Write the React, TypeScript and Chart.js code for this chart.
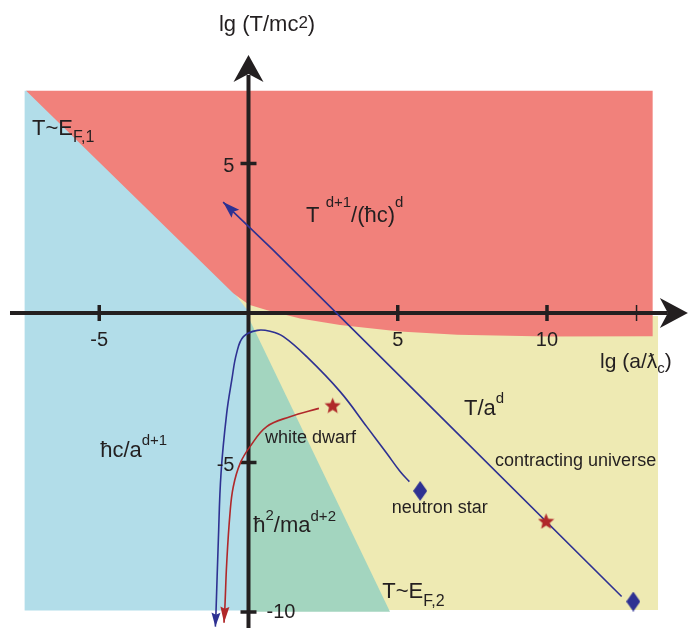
import React, { useEffect, useRef } from 'react';
import { Chart, registerables } from 'chart.js';

Chart.register(...registerables);

const W = 694;
const H = 628;
const X_MIN = -8.325;
const X_MAX = 14.925;
const Y_MIN = -10.535;
const Y_MAX = 10.468;

// ---- regions (data units: x = lg(a/ƛc), y = lg(T/mc²)) ----
const YELLOW_REGION: [number, number][] = [[-1, 1.5], [13.54, -0.1], [13.72, -0.1], [13.72, -9.93], [-1, -9.93]];
const BLUE_REGION: [number, number][] = [[-7.5, 7.43], [-7.3, 7.43], [-0.51, 0.7], [0, 0.05], [0, -9.95], [-7.5, -9.95]];
const RED_REGION: [number, number][] = [
  [-7.45, 7.43], [13.54, 7.43], [13.54, -0.78], [10, -0.79], [7, -0.73], [5.07, -0.62], [3.07, -0.4],
  [1.73, -0.18], [0.6, 0.1], [0.02, 0.28], [-0.25, 0.47], [-0.51, 0.66],
];
const GREEN_REGION: [number, number][] = [[0, -0.15], [4.74, -9.99], [0, -9.99]];

// ---- trajectories ----
const CONTRACTING_LINE: [number, number][] = [[12.5, -9.48], [6.42, -3.45], [0.82, 2.11], [-0.85, 3.71]];
const NEUTRON_CURVE: [number, number][] = [
  [5.39, -5.64], [5.08, -5.3], [4.63, -4.69], [3.96, -3.8], [3.07, -2.63], [1.95, -1.46], [1.17, -0.79],
  [0.75, -0.62], [0.3, -0.58], [-0.17, -0.79], [-0.4, -1.35], [-0.56, -2.24], [-0.73, -3.35],
  [-0.92, -5.36], [-1.01, -7.59], [-1.09, -10.04], [-1.11, -10.49],
];
const DWARF_CURVE: [number, number][] = [
  [2.36, -3.19], [1.39, -3.47], [0.61, -3.8], [0.05, -4.47], [-0.28, -5.03], [-0.51, -5.81],
  [-0.62, -6.7], [-0.73, -8.37], [-0.79, -9.82], [-0.82, -10.36],
];
const STAR_POINTS: [number, number][] = [[2.82, -3.08], [9.97, -6.95]];
const DIAMOND_POINTS: [number, number][] = [[5.75, -5.95], [12.89, -9.65]];

// ---- axes ----
const X_TICKS = [-5, 5, 10];
const X_TICK_LABELS = ['-5', '5', '10'];
const X_MINOR_TICKS = [13];
const Y_TICKS = [5, -5, -10];
const Y_TICK_LABELS = ['5', '-5', '-10'];
const Y_TICK_SIDES = ['left', 'left', 'right'];
const X_AXIS_RANGE = [-7.99, 14.72];
const Y_AXIS_RANGE = [-10.6, 8.63];

// ---- labels ----
const X_TITLE = [['lg (a/ƛ', 21, 0], ['c', 15, 5], [')', 21, 0]];
const X_TITLE_AT = [11.78, -1.84];
const Y_TITLE = [['lg (T/mc', 22, 0], ['2', 17, -3], [')', 22, 0]];
const Y_TITLE_AT = [-0.99, 9.43];

const REGION_LABELS: { segs: (string | number)[][]; at: number[] }[] = [
  { segs: [['T~E', 22, 0], ['F,1', 16, 7]], at: [-7.25, 5.95] },
  { segs: [['T ', 22, 0], ['d+1', 15, -15], ['/(ħc)', 22, 0], ['d', 15, -15]], at: [1.93, 3.04] },
  { segs: [['T/a', 22, 0], ['d', 15, -12]], at: [7.22, -3.41] },
  { segs: [['ħc/a', 22, 0], ['d+1', 15, -12]], at: [-4.97, -4.82] },
  { segs: [['ħ', 22, 0], ['2', 15, -12], ['/ma', 22, 0], ['d+2', 15, -11]], at: [0.16, -7.31] },
  { segs: [['T~E', 22, 0], ['F,2', 16, 8]], at: [4.48, -9.54] },
];
const SMALL_LABELS = ['white dwarf', 'neutron star', 'contracting universe'];
const SMALL_LABELS_AT = [[0.55, -4.36], [4.8, -6.7], [8.26, -5.12]];

const FONT = '"Liberation Sans", Arial, "DejaVu Sans", sans-serif';
const INK = '#231f20';
const C_RED = '#f1817b';
const C_BLUE = '#b2dde9';
const C_YELLOW = '#eeeab3';
const C_GREEN = '#a3d5bf';
const C_LINE_BLUE = '#2e3192';
const C_LINE_RED = '#b0282a';

const pts = (a: [number, number][]) => a.map(([x, y]) => ({ x, y }));

function makeDiamond(color: string, w: number, h: number) {
  const c = document.createElement('canvas');
  c.width = w;
  c.height = h;
  const g = c.getContext('2d')!;
  g.fillStyle = color;
  g.beginPath();
  g.moveTo(w / 2, 0);
  g.lineTo(w, h / 2);
  g.lineTo(w / 2, h);
  g.lineTo(0, h / 2);
  g.closePath();
  g.fill();
  return c;
}

function makeStar(color: string, size: number) {
  const c = document.createElement('canvas');
  c.width = size;
  c.height = size;
  const g = c.getContext('2d')!;
  const R = size / 2;
  const r = R * 0.45;
  g.fillStyle = color;
  g.beginPath();
  for (let i = 0; i < 10; i++) {
    const rad = i % 2 === 0 ? R : r;
    const a = -Math.PI / 2 + (i * Math.PI) / 5;
    const px = R + rad * Math.cos(a);
    const py = R + 1 + rad * Math.sin(a);
    if (i === 0) g.moveTo(px, py);
    else g.lineTo(px, py);
  }
  g.closePath();
  g.fill();
  return c;
}

function arrowHead(ctx: CanvasRenderingContext2D, tx: number, ty: number, fx: number, fy: number, len: number, half: number, notch: number, color: string) {
  const ang = Math.atan2(ty - fy, tx - fx);
  ctx.save();
  ctx.translate(tx, ty);
  ctx.rotate(ang);
  ctx.fillStyle = color;
  ctx.beginPath();
  ctx.moveTo(0, 0);
  ctx.lineTo(-len, -half);
  ctx.lineTo(-len + notch, 0);
  ctx.lineTo(-len, half);
  ctx.closePath();
  ctx.fill();
  ctx.restore();
}

function drawRich(ctx: CanvasRenderingContext2D, x: number, y: number, segs: (string | number)[][]) {
  let cx = x;
  for (const s of segs) {
    const [t, size, dy] = s as [string, number, number];
    ctx.font = `${size}px ${FONT}`;
    ctx.fillText(t, cx, y + dy);
    cx += ctx.measureText(t).width;
  }
}

const GREEN_INDEX = 3;

const overlayPlugin = {
  id: 'overlay',
  afterDatasetDraw(chart: any, args: any) {
    if (args.index !== GREEN_INDEX) return;
    const ctx: CanvasRenderingContext2D = chart.ctx;
    const xs = chart.scales.x;
    const ys = chart.scales.y;
    const x0 = xs.getPixelForValue(0);
    const y0 = ys.getPixelForValue(0);
    ctx.save();
    ctx.strokeStyle = INK;
    ctx.fillStyle = INK;
    ctx.lineWidth = 4;
    // x axis
    const xa = xs.getPixelForValue(X_AXIS_RANGE[0]);
    const xb = xs.getPixelForValue(X_AXIS_RANGE[1]);
    ctx.beginPath();
    ctx.moveTo(xa, y0);
    ctx.lineTo(xb - 20, y0);
    ctx.stroke();
    arrowHead(ctx, xb, y0, xb - 10, y0, 28, 15, 8, INK);
    // y axis
    const ya = ys.getPixelForValue(Y_AXIS_RANGE[0]);
    const yb = ys.getPixelForValue(Y_AXIS_RANGE[1]);
    ctx.beginPath();
    ctx.moveTo(x0, ya);
    ctx.lineTo(x0, yb + 20);
    ctx.stroke();
    arrowHead(ctx, x0, yb, x0, yb + 10, 27, 15, 8, INK);
    // ticks
    ctx.lineWidth = 3.5;
    for (const t of X_TICKS) {
      const px = xs.getPixelForValue(t);
      ctx.beginPath();
      ctx.moveTo(px, y0 - 8);
      ctx.lineTo(px, y0 + 8);
      ctx.stroke();
    }
    for (const t of Y_TICKS) {
      const py = ys.getPixelForValue(t);
      ctx.beginPath();
      ctx.moveTo(x0 - 8, py);
      ctx.lineTo(x0 + 8, py);
      ctx.stroke();
    }
    ctx.lineWidth = 1.5;
    for (const t of X_MINOR_TICKS) {
      const px = xs.getPixelForValue(t);
      ctx.beginPath();
      ctx.moveTo(px, y0 - 8);
      ctx.lineTo(px, y0 + 8);
      ctx.stroke();
    }
    ctx.restore();
  },
  afterDatasetsDraw(chart: any) {
    const ctx: CanvasRenderingContext2D = chart.ctx;
    const xs = chart.scales.x;
    const ys = chart.scales.y;
    const x0 = xs.getPixelForValue(0);
    const y0 = ys.getPixelForValue(0);
    // arrowheads at the ends of trajectories
    chart.data.datasets.forEach((ds: any, i: number) => {
      if (!ds.arrow) return;
      const meta = chart.getDatasetMeta(i);
      const n = meta.data.length;
      const a = meta.data[n - 1];
      const b = meta.data[n - 2];
      arrowHead(ctx, a.x, a.y, b.x, b.y, ds.arrow[0], ds.arrow[1], ds.arrow[2], ds.borderColor);
    });
    ctx.save();
    ctx.fillStyle = INK;
    // tick labels
    ctx.font = `20px ${FONT}`;
    ctx.textBaseline = 'middle';
    ctx.textAlign = 'center';
    X_TICKS.forEach((t, i) => {
      ctx.fillText(X_TICK_LABELS[i], xs.getPixelForValue(t), y0 + 27);
    });
    Y_TICKS.forEach((t, i) => {
      const py = ys.getPixelForValue(t) + 3;
      if (Y_TICK_SIDES[i] === 'left') {
        ctx.textAlign = 'right';
        ctx.fillText(Y_TICK_LABELS[i], x0 - 14, py);
      } else {
        ctx.textAlign = 'left';
        ctx.fillText(Y_TICK_LABELS[i], x0 + 18, py - 3);
      }
    });
    ctx.textAlign = 'left';
    ctx.textBaseline = 'alphabetic';
    drawRich(ctx, xs.getPixelForValue(X_TITLE_AT[0]), ys.getPixelForValue(X_TITLE_AT[1]), X_TITLE);
    drawRich(ctx, xs.getPixelForValue(Y_TITLE_AT[0]), ys.getPixelForValue(Y_TITLE_AT[1]), Y_TITLE);
    for (const l of REGION_LABELS) {
      drawRich(ctx, xs.getPixelForValue(l.at[0]), ys.getPixelForValue(l.at[1]), l.segs);
    }
    ctx.font = `18px ${FONT}`;
    SMALL_LABELS.forEach((t, i) => {
      ctx.fillText(t, xs.getPixelForValue(SMALL_LABELS_AT[i][0]), ys.getPixelForValue(SMALL_LABELS_AT[i][1]));
    });
    ctx.restore();
  },
};

export default function App() {
  const ref = useRef<HTMLCanvasElement>(null);
  useEffect(() => {
    const star = makeStar(C_LINE_RED, 17);
    const diamond = makeDiamond(C_LINE_BLUE, 14, 20);
    const region = (data: [number, number][], color: string, order: number) => ({
      data: pts(data),
      backgroundColor: color,
      borderColor: 'rgba(0,0,0,0)',
      borderWidth: 0,
      fill: 'shape',
      tension: 0,
      pointRadius: 0,
      order,
    });
    const chart = new Chart(ref.current!, {
      type: 'line',
      data: {
        datasets: [
          region(YELLOW_REGION, C_YELLOW, 14),
          region(BLUE_REGION, C_BLUE, 13),
          region(RED_REGION, C_RED, 12),
          region(GREEN_REGION, C_GREEN, 11),
          {
            data: pts(CONTRACTING_LINE),
            borderColor: C_LINE_BLUE,
            borderWidth: 1.6,
            fill: false,
            tension: 0,
            pointRadius: 0,
            order: 5,
            arrow: [17, 5.5, 3],
          },
          {
            data: pts(NEUTRON_CURVE),
            borderColor: C_LINE_BLUE,
            borderWidth: 1.6,
            fill: false,
            tension: 0.4,
            pointRadius: 0,
            order: 4,
            arrow: [14, 4.5, 2],
          },
          {
            data: pts(DWARF_CURVE),
            borderColor: C_LINE_RED,
            borderWidth: 1.6,
            fill: false,
            tension: 0.4,
            pointRadius: 0,
            order: 3,
            arrow: [16, 4.5, 2],
          },
          {
            data: pts(STAR_POINTS),
            showLine: false,
            pointStyle: star,
            pointRadius: 8,
            order: 1,
          },
          {
            data: pts(DIAMOND_POINTS),
            showLine: false,
            pointStyle: diamond,
            pointRadius: 8,
            order: 1,
          },
        ] as any,
      },
      options: {
        responsive: false,
        animation: false,
        events: [],
        layout: { padding: 0, autoPadding: false },
        plugins: {
          legend: { display: false },
          tooltip: { enabled: false },
          title: { display: false },
        },
        scales: {
          x: { type: 'linear', min: X_MIN, max: X_MAX, display: false },
          y: { type: 'linear', min: Y_MIN, max: Y_MAX, display: false },
        },
      },
      plugins: [overlayPlugin],
    } as any);
    return () => chart.destroy();
  }, []);
  return (
    <div style={{ position: 'fixed', left: 0, top: 0, width: W, height: H, background: '#fff' }}>
      <canvas ref={ref} width={W} height={H} style={{ width: W, height: H, display: 'block' }} />
    </div>
  );
}
